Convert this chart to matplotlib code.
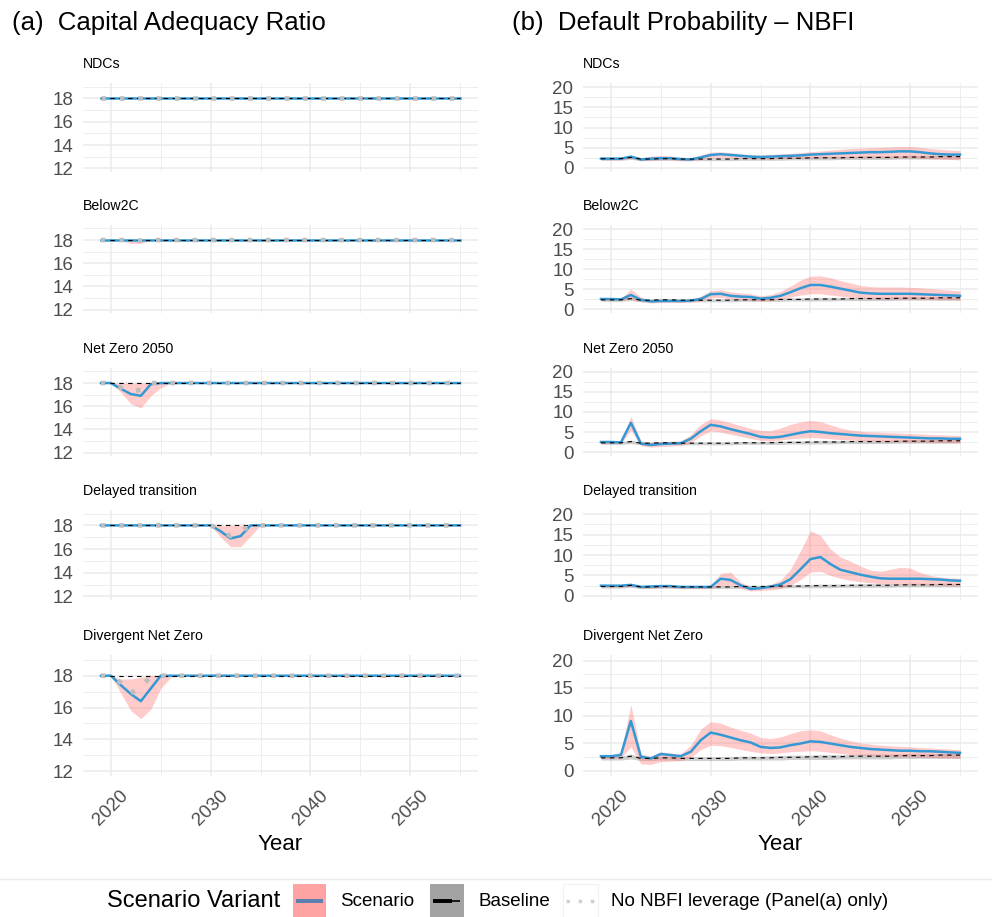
import matplotlib
matplotlib.use("Agg")
import matplotlib.pyplot as plt
from matplotlib.patches import Rectangle
from matplotlib.ticker import MultipleLocator

plt.rcParams['font.family'] = ['Liberation Sans', 'DejaVu Sans']

# Data
YEARS = list(range(2019, 2056))
SCENARIOS = ["NDCs", "Below2C", "Net Zero 2050", "Delayed transition", "Divergent Net Zero"]

# Panel (a): capital adequacy ratio (scenario mean, band, no NBFI leverage)
CAR_FLAT = [18.0] * 37
CAR_BASE = [18.0] * 37

car_b2c_lo = [18, 18, 18, 17.7, 17.7, 18, 18, 18, 18, 18, 18, 18, 18, 18, 18, 18, 18, 18, 18,
              18, 18, 18, 18, 18, 18, 18, 18, 18, 18, 18, 18, 18, 18, 18, 18, 18, 18]
car_b2c_nonbfi = [18, 18, 18, 18, 17.95, 18, 18, 18, 18, 18, 18, 18, 18, 18, 18, 18, 18, 18, 18,
                  18, 18, 18, 18, 18, 18, 18, 18, 18, 18, 18, 18, 18, 18, 18, 18, 18, 18]

car_nz_mean = [18, 18, 17.5, 17.05, 16.9, 17.9, 18, 18, 18, 18, 18, 18, 18, 18, 18, 18, 18, 18, 18,
               18, 18, 18, 18, 18, 18, 18, 18, 18, 18, 18, 18, 18, 18, 18, 18, 18, 18]
car_nz_lo = [18, 18, 17.2, 16.2, 15.85, 16.9, 17.6, 18, 18, 18, 18, 18, 18, 18, 18, 18, 18, 18, 18,
             18, 18, 18, 18, 18, 18, 18, 18, 18, 18, 18, 18, 18, 18, 18, 18, 18, 18]
car_nz_nonbfi = [18, 18, 17.6, 17.3, 17.4, 18, 18, 18, 18, 18, 18, 18, 18, 18, 18, 18, 18, 18, 18,
                 18, 18, 18, 18, 18, 18, 18, 18, 18, 18, 18, 18, 18, 18, 18, 18, 18, 18]

car_dt_mean = [18, 18, 18, 18, 18, 18, 18, 18, 18, 18, 18, 18, 17.5, 16.9, 17.1, 18, 18, 18, 18,
               18, 18, 18, 18, 18, 18, 18, 18, 18, 18, 18, 18, 18, 18, 18, 18, 18, 18]
car_dt_lo = [18, 18, 18, 18, 18, 18, 18, 18, 18, 18, 18, 18, 17.0, 16.2, 16.2, 17.1, 18, 18, 18,
             18, 18, 18, 18, 18, 18, 18, 18, 18, 18, 18, 18, 18, 18, 18, 18, 18, 18]
car_dt_nonbfi = [18, 18, 18, 18, 18, 18, 18, 18, 18, 18, 18, 18, 17.6, 17.1, 17.5, 18, 18, 18, 18,
                 18, 18, 18, 18, 18, 18, 18, 18, 18, 18, 18, 18, 18, 18, 18, 18, 18, 18]

car_dnz_mean = [18, 18, 17.4, 16.85, 16.4, 17.2, 18, 18, 18, 18, 18, 18, 18, 18, 18, 18, 18, 18, 18,
                18, 18, 18, 18, 18, 18, 18, 18, 18, 18, 18, 18, 18, 18, 18, 18, 18, 18]
car_dnz_lo = [18, 18, 16.9, 15.8, 15.3, 15.9, 17.2, 17.9, 18, 18, 18, 18, 18, 18, 18, 18, 18, 18, 18,
              18, 18, 18, 18, 18, 18, 18, 18, 18, 18, 18, 18, 18, 18, 18, 18, 18, 18]
car_dnz_hi = [18, 18, 17.8, 17.8, 17.9, 18, 18, 18, 18, 18, 18, 18, 18, 18, 18, 18, 18, 18, 18,
              18, 18, 18, 18, 18, 18, 18, 18, 18, 18, 18, 18, 18, 18, 18, 18, 18, 18]
car_dnz_nonbfi = [18, 18, 17.55, 16.9, 17.3, 17.95, 18, 18, 18, 18, 18, 18, 18, 18, 18, 18, 18, 18, 18,
                  18, 18, 18, 18, 18, 18, 18, 18, 18, 18, 18, 18, 18, 18, 18, 18, 18, 18]

# Panel (b): default probability of NBFI (%)
pd_base = [2.3, 2.3, 2.3, 2.6, 2.2, 2.2, 2.3, 2.3, 2.2, 2.2, 2.2, 2.2, 2.2, 2.2, 2.3, 2.3, 2.3, 2.3, 2.4,
           2.4, 2.4, 2.5, 2.5, 2.5, 2.5, 2.6, 2.6, 2.6, 2.6, 2.6, 2.7, 2.7, 2.7, 2.7, 2.8, 2.8, 2.8]
pd_base_lo = [1.9, 1.9, 1.9, 2.1, 1.8, 1.8, 1.9, 1.9, 1.8, 1.8, 1.8, 1.8, 1.8, 1.8, 1.9, 1.9, 1.9, 1.9, 1.9,
              2.0, 2.0, 2.0, 2.0, 2.0, 2.1, 2.1, 2.1, 2.1, 2.1, 2.1, 2.2, 2.2, 2.2, 2.2, 2.2, 2.2, 2.2]
pd_base_hi = [2.6, 2.6, 2.6, 3.0, 2.5, 2.5, 2.6, 2.6, 2.5, 2.5, 2.5, 2.5, 2.5, 2.5, 2.6, 2.6, 2.6, 2.7, 2.7,
              2.8, 2.8, 2.8, 2.9, 2.9, 2.9, 2.9, 3.0, 3.0, 3.0, 3.0, 3.0, 3.1, 3.1, 3.1, 3.1, 3.1, 3.1]

pd_ndc_mean = [2.3, 2.3, 2.3, 2.8, 2.1, 2.3, 2.4, 2.4, 2.2, 2.1, 2.6, 3.2, 3.4, 3.2, 3.0, 2.8, 2.7, 2.8, 2.9,
               3.0, 3.1, 3.3, 3.4, 3.5, 3.6, 3.7, 3.8, 3.9, 3.9, 4.0, 4.1, 4.1, 3.9, 3.6, 3.4, 3.3, 3.3]
pd_ndc_hi = [2.6, 2.6, 2.6, 3.2, 2.5, 2.9, 3.1, 3.0, 2.6, 2.5, 3.2, 3.9, 4.0, 3.8, 3.5, 3.3, 3.2, 3.3, 3.5,
             3.6, 3.8, 4.0, 4.2, 4.4, 4.6, 4.8, 4.9, 5.0, 5.1, 5.2, 5.3, 5.3, 5.1, 4.8, 4.6, 4.4, 4.3]
pd_ndc_lo = [2.0, 2.0, 2.0, 2.4, 1.8, 1.9, 2.0, 2.0, 1.8, 1.8, 2.1, 2.5, 2.6, 2.5, 2.4, 2.3, 2.2, 2.2, 2.3,
             2.3, 2.4, 2.4, 2.5, 2.5, 2.5, 2.5, 2.5, 2.5, 2.5, 2.5, 2.5, 2.5, 2.4, 2.3, 2.2, 2.1, 2.0]

pd_b2c_mean = [2.5, 2.5, 2.4, 3.5, 2.3, 1.9, 2.0, 2.0, 2.0, 2.1, 2.5, 3.7, 3.8, 3.3, 3.1, 3.0, 2.6, 2.8, 3.3,
               4.2, 5.2, 6.0, 6.0, 5.6, 5.1, 4.6, 4.1, 3.9, 3.8, 3.8, 3.8, 3.8, 3.7, 3.6, 3.5, 3.4, 3.3]
pd_b2c_hi = [2.7, 2.7, 2.6, 5.0, 3.0, 2.3, 2.4, 2.4, 2.3, 2.5, 3.2, 4.6, 4.8, 4.3, 4.0, 3.8, 3.3, 3.6, 4.4,
             5.7, 7.2, 8.2, 8.3, 7.8, 7.1, 6.5, 5.9, 5.6, 5.5, 5.5, 5.5, 5.4, 5.3, 5.1, 4.9, 4.7, 4.5]
pd_b2c_lo = [2.2, 2.2, 2.1, 2.5, 1.8, 1.5, 1.6, 1.6, 1.6, 1.7, 2.0, 2.8, 2.9, 2.5, 2.3, 2.2, 2.0, 2.1, 2.4,
             3.0, 3.5, 3.8, 3.8, 3.5, 3.2, 2.9, 2.7, 2.6, 2.5, 2.5, 2.5, 2.5, 2.4, 2.4, 2.3, 2.3, 2.2]

pd_nz_mean = [2.5, 2.5, 2.4, 7.3, 2.1, 1.75, 2.0, 2.1, 2.2, 3.3, 5.2, 6.8, 6.4, 5.7, 5.1, 4.5, 3.8, 3.6, 3.8,
              4.3, 4.8, 5.2, 5.0, 4.7, 4.5, 4.3, 4.1, 4.0, 3.9, 3.8, 3.7, 3.6, 3.5, 3.4, 3.4, 3.3, 3.3]
pd_nz_hi = [2.7, 2.7, 2.6, 8.9, 2.8, 2.4, 2.6, 2.7, 2.8, 4.3, 6.9, 8.3, 8.0, 7.3, 6.6, 5.9, 5.4, 5.3, 6.0,
            6.9, 7.5, 7.9, 7.6, 6.8, 6.0, 5.5, 5.2, 5.0, 4.9, 4.8, 4.7, 4.6, 4.5, 4.4, 4.3, 4.2, 4.1]
pd_nz_lo = [2.2, 2.2, 2.1, 5.5, 1.6, 1.2, 1.4, 1.5, 1.6, 2.4, 4.0, 5.3, 5.0, 4.4, 3.9, 3.4, 2.9, 2.8, 3.0,
            3.3, 3.5, 3.6, 3.5, 3.3, 3.1, 3.0, 2.9, 2.8, 2.7, 2.6, 2.6, 2.5, 2.5, 2.4, 2.4, 2.3, 2.3]

pd_dt_mean = [2.5, 2.5, 2.5, 2.7, 2.2, 2.3, 2.4, 2.4, 2.2, 2.2, 2.2, 2.2, 4.2, 3.9, 2.6, 1.7, 1.9, 2.3, 2.8,
              4.1, 6.5, 9.0, 9.5, 7.8, 6.4, 5.8, 5.2, 4.7, 4.3, 4.2, 4.2, 4.2, 4.2, 4.1, 4.0, 3.8, 3.7]
pd_dt_hi = [2.7, 2.7, 2.7, 3.0, 2.5, 2.6, 2.7, 2.7, 2.5, 2.4, 2.4, 2.5, 5.5, 5.8, 3.4, 2.2, 2.3, 2.8, 3.8,
            6.5, 11.0, 15.9, 14.8, 11.5, 9.5, 8.5, 7.3, 6.3, 6.0, 6.5, 7.0, 6.8, 5.7, 5.0, 4.6, 4.4, 4.3]
pd_dt_lo = [2.2, 2.2, 2.2, 2.3, 1.9, 1.9, 2.0, 2.0, 1.8, 1.8, 1.8, 1.8, 2.4, 2.6, 1.8, 1.2, 1.3, 1.5, 1.8,
            2.6, 4.0, 5.8, 6.0, 5.0, 4.3, 3.8, 3.5, 3.2, 3.0, 2.9, 2.9, 2.8, 2.8, 2.7, 2.6, 2.5, 2.5]

pd_dnz_mean = [2.6, 2.6, 2.8, 9.0, 2.5, 2.2, 3.0, 2.8, 2.6, 3.4, 5.5, 6.9, 6.5, 6.0, 5.5, 5.1, 4.3, 4.1, 4.2,
               4.6, 4.9, 5.3, 5.2, 4.9, 4.6, 4.3, 4.1, 3.9, 3.8, 3.7, 3.6, 3.6, 3.5, 3.5, 3.4, 3.3, 3.2]
pd_dnz_hi = [2.8, 2.8, 3.4, 12.0, 3.0, 2.6, 3.4, 3.2, 3.0, 4.6, 7.5, 8.9, 8.6, 7.9, 7.3, 6.8, 6.0, 5.8, 6.1,
             6.7, 7.2, 7.4, 7.2, 6.5, 5.9, 5.4, 5.0, 4.8, 4.6, 4.5, 4.4, 4.3, 4.2, 4.1, 4.0, 3.9, 3.8]
pd_dnz_lo = [2.2, 2.2, 2.3, 4.3, 1.2, 1.1, 1.6, 1.7, 1.8, 2.4, 3.8, 4.6, 4.5, 4.2, 3.8, 3.5, 3.2, 3.1, 3.2,
             3.4, 3.5, 3.6, 3.5, 3.3, 3.1, 2.9, 2.8, 2.7, 2.6, 2.6, 2.5, 2.5, 2.4, 2.4, 2.3, 2.3, 2.2]

CAR_SERIES = [
    (CAR_FLAT, CAR_FLAT, CAR_FLAT, CAR_FLAT),
    (CAR_FLAT, car_b2c_lo, CAR_FLAT, car_b2c_nonbfi),
    (car_nz_mean, car_nz_lo, CAR_FLAT, car_nz_nonbfi),
    (car_dt_mean, car_dt_lo, CAR_FLAT, car_dt_nonbfi),
    (car_dnz_mean, car_dnz_lo, car_dnz_hi, car_dnz_nonbfi),
]
PD_SERIES = [
    (pd_ndc_mean, pd_ndc_lo, pd_ndc_hi),
    (pd_b2c_mean, pd_b2c_lo, pd_b2c_hi),
    (pd_nz_mean, pd_nz_lo, pd_nz_hi),
    (pd_dt_mean, pd_dt_lo, pd_dt_hi),
    (pd_dnz_mean, pd_dnz_lo, pd_dnz_hi),
]

# Colours
BLUE = "#3399D4"
PINK = "#FF6B6B"
GREY_BAND = "#7A7A7A"
GRID = "#EBEBEB"
TICK = "#4D4D4D"

# Layout in pixels
W, H = 992, 917
ROW_TOPS = [83, 225, 368, 510, 655]
ROW_BOTTOMS = [172, 313, 456, 600, 776]
LEFT_X0, RIGHT_X0, PANEL_W = 83, 583, 395


def addPanel(fig, x0, top, bottom):
    ax = fig.add_axes([x0 / W, 1 - bottom / H, PANEL_W / W, (bottom - top) / H])
    for spine in ax.spines.values():
        spine.set_visible(False)
    ax.set_xlim(2017.2, 2056.8)
    ax.xaxis.set_major_locator(MultipleLocator(10))
    ax.xaxis.set_minor_locator(MultipleLocator(5))
    ax.grid(which="major", color=GRID, linewidth=1.1)
    ax.grid(which="minor", color=GRID, linewidth=0.6)
    ax.set_axisbelow(True)
    ax.tick_params(which="both", length=0)
    ax.tick_params(axis="y", labelsize=13.5, labelcolor=TICK, pad=7)
    ax.tick_params(axis="x", labelsize=13.5, labelcolor=TICK, pad=8, labelrotation=45)
    return ax


# Capital adequacy ratio facet
def drawCar(ax, series):
    mean, lo, hi, nonbfi = series
    ax.fill_between(YEARS, lo, hi, color=PINK, alpha=0.35, linewidth=0)
    ax.plot(YEARS, mean, color=BLUE, linewidth=1.8)
    ax.plot(YEARS, CAR_BASE, color="black", linewidth=0.8, linestyle=(0, (4, 4)))
    ax.plot(YEARS, nonbfi, color="#BDBDBD", linewidth=3.3, linestyle=(0, (1, 3.0)))
    ax.set_ylim(11.7, 19.3)
    ax.yaxis.set_major_locator(MultipleLocator(2))
    ax.yaxis.set_minor_locator(MultipleLocator(1))


# Default probability facet
def drawPd(ax, series):
    mean, lo, hi = series
    ax.fill_between(YEARS, pd_base_lo, pd_base_hi, color=GREY_BAND, alpha=0.35, linewidth=0)
    ax.fill_between(YEARS, lo, hi, color=PINK, alpha=0.35, linewidth=0)
    ax.plot(YEARS, mean, color=BLUE, linewidth=1.8)
    ax.plot(YEARS, pd_base, color="black", linewidth=0.8, linestyle=(0, (4, 4)))
    ax.set_ylim(-1, 21)
    ax.yaxis.set_major_locator(MultipleLocator(5))
    ax.yaxis.set_minor_locator(MultipleLocator(2.5))


fig = plt.figure(figsize=(W / 100, H / 100), dpi=100)

for i in range(len(SCENARIOS)):
    axLeft = addPanel(fig, LEFT_X0, ROW_TOPS[i], ROW_BOTTOMS[i])
    drawCar(axLeft, CAR_SERIES[i])
    axRight = addPanel(fig, RIGHT_X0, ROW_TOPS[i], ROW_BOTTOMS[i])
    drawPd(axRight, PD_SERIES[i])
    for ax in (axLeft, axRight):
        if i < len(SCENARIOS) - 1:
            ax.tick_params(axis="x", labelbottom=False)

# Overlay in pixel coordinates for titles and legend
over = fig.add_axes([0, 0, 1, 1])
over.set_xlim(0, W)
over.set_ylim(H, 0)
over.axis("off")
over.patch.set_visible(False)

over.text(12, 30, "(a)  Capital Adequacy Ratio", fontsize=18.5, va="baseline")
over.text(512, 30, "(b)  Default Probability \u2013 NBFI", fontsize=18.5, va="baseline")

for i, name in enumerate(SCENARIOS):
    over.text(LEFT_X0, ROW_TOPS[i] - 15, name, fontsize=10.2, va="baseline")
    over.text(RIGHT_X0, ROW_TOPS[i] - 15, name, fontsize=10.2, va="baseline")

over.text(LEFT_X0 + PANEL_W / 2, 850, "Year", fontsize=16, ha="center", va="baseline")
over.text(RIGHT_X0 + PANEL_W / 2, 850, "Year", fontsize=16, ha="center", va="baseline")

# Legend
over.plot([0, W], [879, 879], color=GRID, linewidth=1)
over.text(107, 901, "Scenario Variant", fontsize=17, va="center")
over.add_patch(Rectangle((293, 884), 33, 36, facecolor="#FFA3A3", edgecolor="none"))
over.plot([296, 323], [901, 901], color="#5A7FB0", linewidth=2.8, solid_capstyle="butt")
over.text(340, 901, "Scenario", fontsize=13.5, va="center")
over.add_patch(Rectangle((430, 884), 34, 36, facecolor="#A3A3A3", edgecolor="none"))
over.plot([433, 452], [901, 901], color="black", linewidth=2.8, solid_capstyle="butt")
over.plot([452, 460], [901, 901], color="black", linewidth=1.2, solid_capstyle="butt")
over.text(478, 901, "Baseline", fontsize=13.5, va="center")
over.add_patch(Rectangle((563, 884), 35, 36, facecolor="white", edgecolor="#F2F2F2", linewidth=0.8))
over.plot([566, 595], [901, 901], color="#D0D0D0", linewidth=2.5, linestyle=(0, (1, 2.5)))
over.text(611, 901, "No NBFI leverage (Panel(a) only)", fontsize=13.5, va="center")

fig.savefig("out.png", dpi=100)
